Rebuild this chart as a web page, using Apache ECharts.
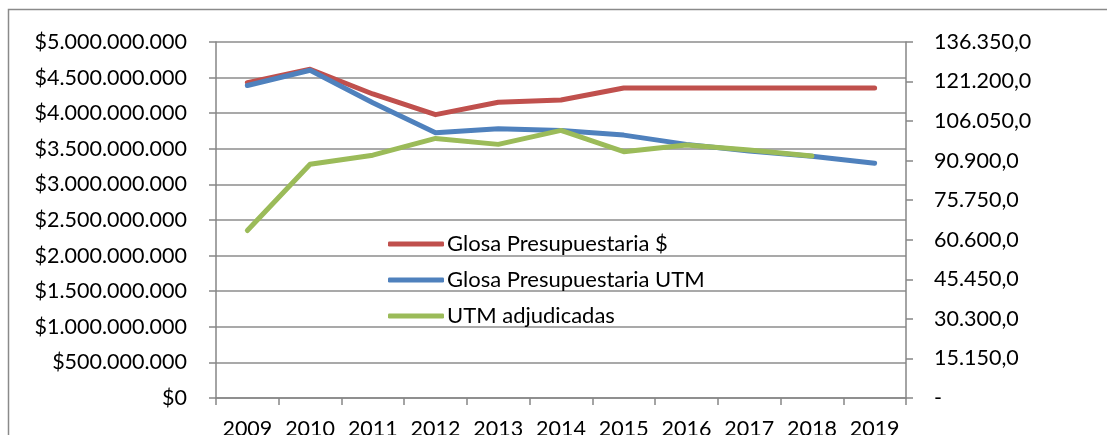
<!DOCTYPE html>
<html>
<head>
<meta charset="utf-8">
<script src="https://cdn.jsdelivr.net/npm/echarts@6/dist/echarts.min.js"></script>
<style>
html,body{margin:0;padding:0;background:#fff;}
#c{width:1107px;height:435px;}
</style>
</head>
<body>
<div id="c"></div>
<script>
var years = ['2009','2010','2011','2012','2013','2014','2015','2016','2017','2018','2019'];
var glosaPesos = [4430000000, 4617000000, 4270000000, 3980000000, 4153000000, 4186000000, 4353000000, 4353000000, 4353000000, 4353000000, 4353000000];
var glosaUTM = [119670, 125520, 113050, 101570, 103100, 102490, 100690, 97140, 94580, 92620, 89900];
var utmAdjudicadas = [64160, 89520, 93000, 99430, 97140, 102490, 94340, 96880, 94990, 92700, null];
var seriesNames = ['Glosa Presupuestaria $', 'Glosa Presupuestaria UTM', 'UTM adjudicadas'];
var colors = ['#C0504D', '#4F81BD', '#9BBB59'];

function fmtThousands(n) {
  return String(Math.round(n)).replace(/\B(?=(\d{3})+(?!\d))/g, '.');
}
var FONT = 'Lato';
var AX = 21.5;
var chart = echarts.init(document.getElementById('c'));
chart.setOption({
  animation: false,
  textStyle: {fontFamily: FONT},
  graphic: [{
    type: 'rect', silent: true,
    shape: {x: 8.5, y: 9.5, width: 1300, height: 600},
    style: {fill: 'none', stroke: '#8a8a8a', lineWidth: 1.5}
  }],
  grid: {left: 216, right: 201, top: 42, bottom: 37, containLabel: false, outerBoundsMode: 'none'},
  legend: {
    orient: 'vertical', left: 383, top: 228,
    icon: 'roundRect', itemWidth: 56, itemHeight: 5, itemGap: 14,
    textStyle: {fontFamily: FONT, fontSize: 22, lineHeight: 22, color: '#000', padding: [0,0,0,-2]},
    data: seriesNames
  },
  xAxis: {
    type: 'category', data: years, boundaryGap: true,
    axisLine: {lineStyle: {color: '#868686', width: 1.5}},
    axisTick: {show: true, inside: false, length: 7, alignWithLabel: false, lineStyle: {color: '#868686', width: 1.5}},
    axisLabel: {interval: 0, margin: 20, color: '#000', fontSize: AX, fontFamily: FONT},
    splitLine: {show: false}
  },
  yAxis: [{
    type: 'value', min: 0, max: 5000000000, interval: 500000000, position: 'left',
    axisLine: {show: true, lineStyle: {color: '#868686', width: 1.5}},
    axisTick: {show: true, inside: false, length: 7, lineStyle: {color: '#868686', width: 1.5}},
    axisLabel: {margin: 29, color: '#000', fontSize: AX, fontFamily: FONT,
      formatter: function (v) { return '$' + fmtThousands(v); }},
    splitLine: {show: true, lineStyle: {color: '#8c8c8c', width: 1.5}}
  }, {
    type: 'value', min: 0, max: 136350, interval: 15150, position: 'right',
    axisLine: {show: true, lineStyle: {color: '#868686', width: 1.5}},
    axisTick: {show: true, inside: false, length: 7, lineStyle: {color: '#868686', width: 1.5}},
    axisLabel: {margin: 28, color: '#000', fontSize: AX, fontFamily: FONT, align: 'left',
      formatter: function (v) { return v === 0 ? '-' : fmtThousands(v) + ',0'; }},
    splitLine: {show: false}
  }],
  series: [{
    name: seriesNames[0], type: 'line', yAxisIndex: 0, data: glosaPesos,
    symbol: 'none', color: colors[0],
    lineStyle: {width: 5, color: colors[0], cap: 'round', join: 'round'}
  }, {
    name: seriesNames[1], type: 'line', yAxisIndex: 1, data: glosaUTM,
    symbol: 'none', color: colors[1],
    lineStyle: {width: 5, color: colors[1], cap: 'round', join: 'round'}
  }, {
    name: seriesNames[2], type: 'line', yAxisIndex: 1, data: utmAdjudicadas,
    symbol: 'none', color: colors[2],
    lineStyle: {width: 5, color: colors[2], cap: 'round', join: 'round'}
  }]
});
</script>
</body>
</html>
